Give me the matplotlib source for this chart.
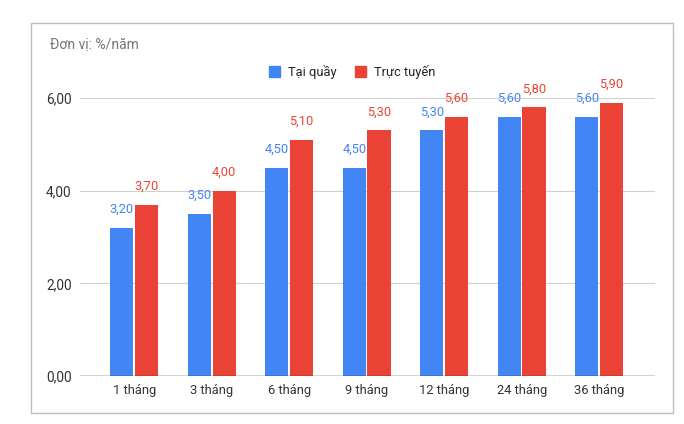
import matplotlib
matplotlib.use("Agg")
import matplotlib.pyplot as plt
from matplotlib.patches import Rectangle
import numpy as np

plt.rcParams['font.family'] = ['Roboto', 'DejaVu Sans']

categories = ["1 tháng", "3 tháng", "6 tháng", "9 tháng", "12 tháng", "24 tháng", "36 tháng"]
tai_quay = [3.20, 3.50, 4.50, 4.50, 5.30, 5.60, 5.60]
truc_tuyen = [3.70, 4.00, 5.10, 5.30, 5.60, 5.80, 5.90]
yticks = [0, 2, 4, 6]
ytick_labels = ["0,00", "2,00", "4,00", "6,00"]

BLUE = "#4285F4"
RED = "#EA4335"

fig = plt.figure(figsize=(6.84, 4.24), dpi=100)
fig.patches.append(Rectangle((31/684, 1-413/424), (673-31)/684, (413-23)/424,
                             transform=fig.transFigure, fill=False,
                             edgecolor="#bdbdbd", linewidth=1.0))

ax = fig.add_axes([80/684, 1-376/424, 575/684, (376-98)/424])
x = np.arange(len(categories))
w = 0.30
gap = 0.02
b1 = ax.bar(x - w/2 - gap/2, tai_quay, w, color=BLUE, zorder=3, label="Tại quầy")
b2 = ax.bar(x + w/2 + gap/2, truc_tuyen, w, color=RED, zorder=3, label="Trực tuyến")

def fmt(v):
    return f"{v:.2f}".replace(".", ",")

for bars, vals, c in ((b1, tai_quay, BLUE), (b2, truc_tuyen, RED)):
    for b, v in zip(bars, vals):
        ax.annotate(fmt(v), (b.get_x() + b.get_width()/2, v), xytext=(0, 12),
                    textcoords="offset pixels", ha="center", va="bottom",
                    color=c, fontsize=9.3, annotation_clip=False)

ax.set_xlim(-0.7, 6.72)
ax.set_ylim(0, 6)
ax.set_yticks(yticks)
ax.set_yticklabels(ytick_labels)
ax.set_xticks(x)
ax.set_xticklabels(categories)
ax.tick_params(axis='both', length=0, colors="#333333")
ax.tick_params(axis='y', pad=6, labelsize=9.8)
ax.tick_params(axis='x', pad=6, labelsize=9.3)
ax.grid(axis='y', color="#d0d0d0", linewidth=0.8, zorder=0)
ax.axhline(0, color="#333333", linewidth=1.0, zorder=4)
for s in ax.spines.values():
    s.set_visible(False)
ax.set_facecolor("none")

fig.text(50/684, 1-45/424, "Đơn vị: %/năm", fontsize=10, color="#757575",
         ha="left", va="center")

handles = [Rectangle((0, 0), 1, 1, color=BLUE), Rectangle((0, 0), 1, 1, color=RED)]
fig.legend(handles, ["Tại quầy", "Trực tuyến"], loc="center",
           bbox_to_anchor=(352/684, 1-72/424), ncol=2, frameon=False,
           fontsize=9.3, handlelength=0.9, handleheight=1.0, handletextpad=0.6,
           columnspacing=1.4, labelcolor="#222222")

fig.savefig("out.png", dpi=100, facecolor="white")
